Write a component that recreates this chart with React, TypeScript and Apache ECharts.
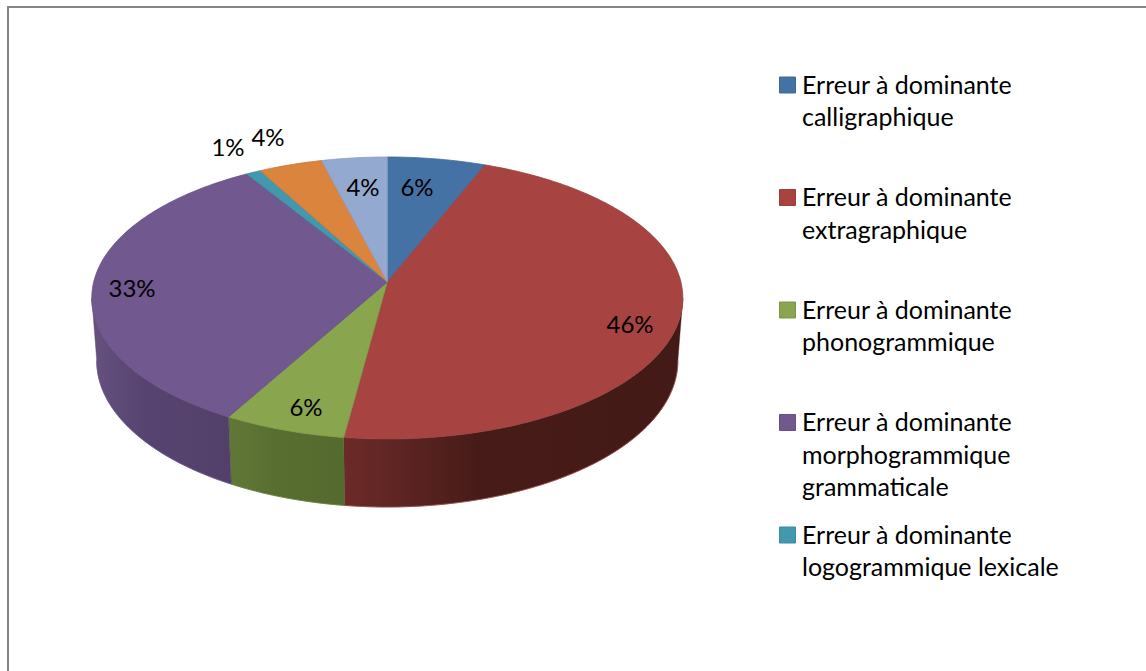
import React, { useEffect, useRef } from "react";
import * as echarts from "echarts";

// --- data ---
const sliceValues = [6, 46.1, 6, 33.1, 0.9, 3.9, 4];
const legendLabels = [
  "Erreur à dominante\ncalligraphique",
  "Erreur à dominante\nextragraphique",
  "Erreur à dominante\nphonogrammique",
  "Erreur à dominante\nmorphogrammique\ngrammaticale",
  "Erreur à dominante\nlogogrammique lexicale",
];

// --- styles ---
const topColors = ["#4572A4", "#A74442", "#89A54E", "#71588F", "#4198AF", "#DB843D", "#93A9CF"];
const edgeColors = ["#3F6A98", "#96403E", "#7C9546", "#665083", "#3A8BA1", "#C67636", "#87A0C8"];
const wallEdge = ["#3F6A98", "#A0524F", "#6A8240", "#6A5688", "#3A8BA1", "#C67636", "#87A0C8"];
const wallStops: string[][] = [
  ["#37598a", "#37598a"],
  ["#6C2A28", "#5E2523", "#471B18", "#431A17"],
  ["#607737", "#5E7536", "#586E31", "#546A2E"],
  ["#66517F", "#5F4B78", "#57436F", "#53406A"],
  ["#2f7085", "#2f7085"],
  ["#a8642c", "#a8642c"],
  ["#6f83a5", "#6f83a5"],
];
const labelCentres = [
  [417, 186],
  [630, 323],
  [306, 406],
  [132, 287],
  [228, 146],
  [268, 136],
  [363, 186],
];
const FONT = "Lato, 'Open Sans', sans-serif";
const LEGEND_SIZE = 25;
const LABEL_SIZE = 24;

// --- perspective model of the disc ---
const CX = 387.3;
const C = 293.6;
const K = -0.1135;
const A = 107.2;
const B = 282;
const H = 67.9;
const SHRINK = 1.017;

const total = sliceValues.reduce((a, b) => a + b, 0);
const angle = (acc: number) => (acc / total) * Math.PI * 2;
const starts: number[] = [];
sliceValues.reduce((acc, v) => {
  starts.push(acc);
  return acc + v;
}, 0);

const topPoint = (t: number) => {
  const u = Math.sin(t);
  const v = -Math.cos(t);
  const d = 1 + K * v;
  return [CX + (C * u) / d, (B + A * v) / d];
};
const bottomPoint = (t: number) => {
  const u = Math.sin(t);
  const v = -Math.cos(t);
  const d = (1 + K * v) * SHRINK;
  return [CX + (C * u) / d, (B + A * v + H) / d];
};
const sweep = (t0: number, t1: number, fn: (t: number) => number[]) => {
  const n = Math.max(2, Math.ceil((t1 - t0) / 0.015));
  const out: number[][] = [];
  for (let i = 0; i <= n; i++) out.push(fn(t0 + ((t1 - t0) * i) / n));
  return out;
};

// the wall ends where the top rim is at its widest
const WALL_MIN = Math.PI / 2 + 0.113;
const WALL_MAX = (3 * Math.PI) / 2 - 0.113;

const renderWall = (_p: any, api: any) => {
  const i = api.value(1);
  const t0 = Math.max(angle(starts[i]), WALL_MIN);
  const t1 = Math.min(angle(starts[i] + sliceValues[i]), WALL_MAX);
  if (t1 <= t0) return { type: "group", children: [] };
  const rim = sweep(t0, t1, bottomPoint);
  const pts = [...sweep(t0, t1, topPoint), ...[...rim].reverse()];
  const stops = wallStops[i];
  const offsets = stops.length === 4 ? [0, 0.16, 0.4, 1] : [0, 1];
  return {
    type: "group",
    children: [
      {
        type: "polygon",
        shape: { points: pts },
        style: {
          fill: new echarts.graphic.LinearGradient(
            0, 0, 1, 0,
            stops.map((color, j) => ({ offset: offsets[j], color }))
          ),
          stroke: stops[stops.length - 1],
          lineWidth: 0.4,
        },
      },
      {
        type: "polyline",
        shape: { points: rim },
        style: { fill: "none", stroke: wallEdge[i], lineWidth: 0.8 },
      },
    ],
  };
};

const renderTop = (_p: any, api: any) => {
  const i = api.value(1);
  const t0 = angle(starts[i]);
  const t1 = angle(starts[i] + sliceValues[i]);
  return {
    type: "polygon",
    shape: { points: [[CX, B], ...sweep(t0, t1, topPoint)] },
    style: { fill: topColors[i], stroke: edgeColors[i], lineWidth: 0.8, lineJoin: "round" },
  };
};

const renderLabel = (_p: any, api: any) => {
  const i = api.value(1);
  return {
    type: "text",
    x: labelCentres[i][0],
    y: labelCentres[i][1],
    style: {
      text: `${Math.round((sliceValues[i] / total) * 100)}%`,
      font: `${LABEL_SIZE}px ${FONT}`,
      fill: "#000",
      align: "center",
      verticalAlign: "middle",
    },
  };
};

const seriesData = sliceValues.map((v, i) => [v, i]);

export default function App() {
  const ref = useRef<HTMLDivElement>(null);
  useEffect(() => {
    document.body.style.margin = "0";
    document.body.style.background = "#fff";
    const chart = echarts.init(ref.current!, undefined, { renderer: "svg" });
    const legendItems = legendLabels.flatMap((text, i) => {
      const y = 85 + i * 112.5;
      return [
        {
          type: "rect",
          shape: { x: 779.5, y: y - 8, width: 16, height: 16 },
          style: { fill: topColors[i], stroke: edgeColors[i], lineWidth: 1 },
        },
        {
          type: "text",
          x: 802,
          y: y - 17.5,
          style: {
            text,
            font: `${LEGEND_SIZE}px ${FONT}`,
            lineHeight: 32.4,
            fill: "#000",
            align: "left",
            verticalAlign: "top",
          },
        },
      ];
    });
    chart.setOption({
      animation: false,
      backgroundColor: "#fff",
      graphic: [
        {
          type: "polyline",
          shape: { points: [[8, 671], [8, 7], [1146, 7]] },
          style: { fill: "none", stroke: "#868686", lineWidth: 2 },
        },
        ...legendItems,
      ],
      series: [
        { type: "custom", coordinateSystem: "none", z: 1, silent: true, data: seriesData, renderItem: renderWall },
        { type: "custom", coordinateSystem: "none", z: 2, silent: true, data: seriesData, renderItem: renderTop },
        { type: "custom", coordinateSystem: "none", z: 3, silent: true, data: seriesData, renderItem: renderLabel },
      ],
    });
    return () => chart.dispose();
  }, []);
  return <div ref={ref} style={{ position: "absolute", left: 0, top: 0, width: 1146, height: 671 }} />;
}
